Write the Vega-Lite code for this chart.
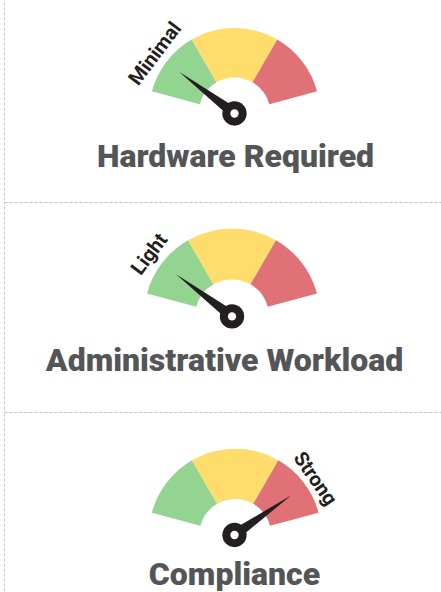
{
  "$schema": "https://vega.github.io/schema/vega-lite/v6.json",
  "padding": {"left": 3, "top": -20, "right": 0, "bottom": 0},
  "spacing": 0,
  "bounds": "flush",
  "background": "white",
  "config": {"view": {"stroke": "#c4c4c4", "strokeDash": [3, 2], "strokeWidth": 1}},
  "datasets": {
    "segments": [
      {"gauge": "Hardware Required", "level": "Low", "seq": 1, "share": 45},
      {"gauge": "Hardware Required", "level": "Medium", "seq": 2, "share": 60},
      {"gauge": "Hardware Required", "level": "High", "seq": 3, "share": 45},
      {"gauge": "Administrative Workload", "level": "Low", "seq": 1, "share": 45},
      {"gauge": "Administrative Workload", "level": "Medium", "seq": 2, "share": 60},
      {"gauge": "Administrative Workload", "level": "High", "seq": 3, "share": 45},
      {"gauge": "Compliance", "level": "Low", "seq": 1, "share": 45},
      {"gauge": "Compliance", "level": "Medium", "seq": 2, "share": 60},
      {"gauge": "Compliance", "level": "High", "seq": 3, "share": 45}
    ],
    "readings": [
      {"gauge": "Hardware Required", "label": "Minimal", "value": 22},
      {"gauge": "Administrative Workload", "label": "Light", "value": 22},
      {"gauge": "Compliance", "label": "Strong", "value": 130}
    ]
  },
  "vconcat": [
    {
      "width": 461,
      "height": 221,
      "view": {"stroke": "#c4c4c4", "strokeDash": [3, 2], "strokeWidth": 1, "fill": "white"},
      "layer": [
        {
          "data": {"name": "segments"},
          "transform": [{"filter": "datum.gauge === 'Hardware Required'"}],
          "mark": {"type": "arc", "radius": 85.5, "radius2": 36, "yOffset": 22},
          "encoding": {
            "theta": {"field": "share", "type": "quantitative", "stack": true, "scale": {"domain": [0, 150], "range": [-1.309, 1.309]}},
            "order": {"field": "seq", "type": "quantitative"},
            "color": {"field": "level", "type": "nominal", "scale": {"domain": ["Low", "Medium", "High"], "range": ["#94d491", "#fedd6c", "#e07176"]}, "legend": null}
          }
        },
        {
          "data": {"name": "readings"},
          "transform": [{"filter": "datum.gauge === 'Hardware Required'"}],
          "mark": {"type": "point", "shape": "M -0.08 0 L 0 -1 L 0.08 0 Z", "size": 19044, "filled": true, "opacity": 1, "color": "#231f20", "strokeWidth": 0, "yOffset": 22},
          "encoding": {"angle": {"field": "value", "type": "quantitative", "scale": {"domain": [0, 150], "range": [-75, 75]}}}
        },
        {
          "data": {"name": "readings"},
          "transform": [{"filter": "datum.gauge === 'Hardware Required'"}],
          "mark": {"type": "point", "shape": "circle", "size": 590, "filled": true, "opacity": 1, "color": "#231f20", "strokeWidth": 0, "yOffset": 22},
          "encoding": {}
        },
        {
          "data": {"name": "readings"},
          "transform": [{"filter": "datum.gauge === 'Hardware Required'"}],
          "mark": {"type": "point", "shape": "circle", "size": 69, "filled": true, "opacity": 1, "color": "#ffffff", "strokeWidth": 0, "yOffset": 22},
          "encoding": {}
        },
        {
          "data": {"name": "readings"},
          "transform": [{"filter": "datum.gauge === 'Hardware Required'"}],
          "mark": {"type": "text", "radius": 99, "font": "Roboto", "fontWeight": "bold", "fontSize": 20, "color": "#231f20", "align": "center", "baseline": "middle", "yOffset": 22},
          "encoding": {
            "text": {"field": "label"},
            "theta": {"field": "value", "type": "quantitative", "stack": null},
            "angle": {"field": "value", "type": "quantitative"}
          }
        },
        {
          "data": {"name": "readings"},
          "transform": [{"filter": "datum.gauge === 'Hardware Required'"}],
          "mark": {"type": "text", "font": "Roboto", "fontWeight": 900, "fontSize": 32, "color": "#545557", "align": "center", "baseline": "alphabetic", "yOffset": 75.5, "xOffset": 1},
          "encoding": {"text": {"field": "gauge"}}
        }
      ]
    },
    {
      "width": 461,
      "height": 210,
      "view": {"stroke": "#c4c4c4", "strokeDash": [3, 2], "strokeWidth": 1, "fill": "white"},
      "layer": [
        {
          "data": {"name": "segments"},
          "transform": [{"filter": "datum.gauge === 'Administrative Workload'"}],
          "mark": {"type": "arc", "radius": 88, "radius2": 37, "yOffset": 9.4, "xOffset": -2.5},
          "encoding": {
            "theta": {"field": "share", "type": "quantitative", "stack": true, "scale": {"domain": [0, 150], "range": [-1.309, 1.309]}},
            "order": {"field": "seq", "type": "quantitative"},
            "color": {"field": "level", "type": "nominal", "scale": {"domain": ["Low", "Medium", "High"], "range": ["#94d491", "#fedd6c", "#e07176"]}, "legend": null}
          }
        },
        {
          "data": {"name": "readings"},
          "transform": [{"filter": "datum.gauge === 'Administrative Workload'"}],
          "mark": {"type": "point", "shape": "M -0.08 0 L 0 -1 L 0.08 0 Z", "size": 19600, "filled": true, "opacity": 1, "color": "#231f20", "strokeWidth": 0, "yOffset": 9.4, "xOffset": -2.5},
          "encoding": {"angle": {"field": "value", "type": "quantitative", "scale": {"domain": [0, 150], "range": [-75, 75]}}}
        },
        {
          "data": {"name": "readings"},
          "transform": [{"filter": "datum.gauge === 'Administrative Workload'"}],
          "mark": {"type": "point", "shape": "circle", "size": 590, "filled": true, "opacity": 1, "color": "#231f20", "strokeWidth": 0, "yOffset": 9.4, "xOffset": -2.5},
          "encoding": {}
        },
        {
          "data": {"name": "readings"},
          "transform": [{"filter": "datum.gauge === 'Administrative Workload'"}],
          "mark": {"type": "point", "shape": "circle", "size": 69, "filled": true, "opacity": 1, "color": "#ffffff", "strokeWidth": 0, "yOffset": 9.4, "xOffset": -2.5},
          "encoding": {}
        },
        {
          "data": {"name": "readings"},
          "transform": [{"filter": "datum.gauge === 'Administrative Workload'"}],
          "mark": {"type": "text", "radius": 103, "font": "Roboto", "fontWeight": "bold", "fontSize": 20, "color": "#231f20", "align": "center", "baseline": "middle", "yOffset": 9.4, "xOffset": -2.5},
          "encoding": {
            "text": {"field": "label"},
            "theta": {"field": "value", "type": "quantitative", "stack": null},
            "angle": {"field": "value", "type": "quantitative"}
          }
        },
        {
          "data": {"name": "readings"},
          "transform": [{"filter": "datum.gauge === 'Administrative Workload'"}],
          "mark": {"type": "text", "font": "Roboto", "fontWeight": 900, "fontSize": 32, "color": "#545557", "align": "center", "baseline": "alphabetic", "yOffset": 63.5, "xOffset": -10},
          "encoding": {"text": {"field": "gauge"}}
        }
      ]
    },
    {
      "width": 461,
      "height": 246,
      "view": {"stroke": "#c4c4c4", "strokeDash": [3, 2], "strokeWidth": 1, "fill": "white"},
      "layer": [
        {
          "data": {"name": "segments"},
          "transform": [{"filter": "datum.gauge === 'Compliance'"}],
          "mark": {"type": "arc", "radius": 86.3, "radius2": 36, "xOffset": 0.7},
          "encoding": {
            "theta": {"field": "share", "type": "quantitative", "stack": true, "scale": {"domain": [0, 150], "range": [-1.309, 1.309]}},
            "order": {"field": "seq", "type": "quantitative"},
            "color": {"field": "level", "type": "nominal", "scale": {"domain": ["Low", "Medium", "High"], "range": ["#94d491", "#fedd6c", "#e07176"]}, "legend": null}
          }
        },
        {
          "data": {"name": "readings"},
          "transform": [{"filter": "datum.gauge === 'Compliance'"}],
          "mark": {"type": "point", "shape": "M -0.08 0 L 0 -1 L 0.08 0 Z", "size": 19044, "filled": true, "opacity": 1, "color": "#231f20", "strokeWidth": 0},
          "encoding": {"angle": {"field": "value", "type": "quantitative", "scale": {"domain": [0, 150], "range": [-75, 75]}}}
        },
        {
          "data": {"name": "readings"},
          "transform": [{"filter": "datum.gauge === 'Compliance'"}],
          "mark": {"type": "point", "shape": "circle", "size": 590, "filled": true, "opacity": 1, "color": "#231f20", "strokeWidth": 0},
          "encoding": {}
        },
        {
          "data": {"name": "readings"},
          "transform": [{"filter": "datum.gauge === 'Compliance'"}],
          "mark": {"type": "point", "shape": "circle", "size": 69, "filled": true, "opacity": 1, "color": "#ffffff", "strokeWidth": 0},
          "encoding": {}
        },
        {
          "data": {"name": "readings"},
          "transform": [{"filter": "datum.gauge === 'Compliance'"}],
          "mark": {"type": "text", "radius": 98, "font": "Roboto", "fontWeight": "bold", "fontSize": 20, "color": "#231f20", "align": "center", "baseline": "middle"},
          "encoding": {
            "text": {"field": "label"},
            "theta": {"field": "value", "type": "quantitative", "stack": null},
            "angle": {"field": "value", "type": "quantitative"}
          }
        },
        {
          "data": {"name": "readings"},
          "transform": [{"filter": "datum.gauge === 'Compliance'"}],
          "mark": {"type": "text", "font": "Roboto", "fontWeight": 900, "fontSize": 32, "color": "#545557", "align": "center", "baseline": "alphabetic", "yOffset": 50},
          "encoding": {"text": {"field": "gauge"}}
        }
      ]
    }
  ]
}
